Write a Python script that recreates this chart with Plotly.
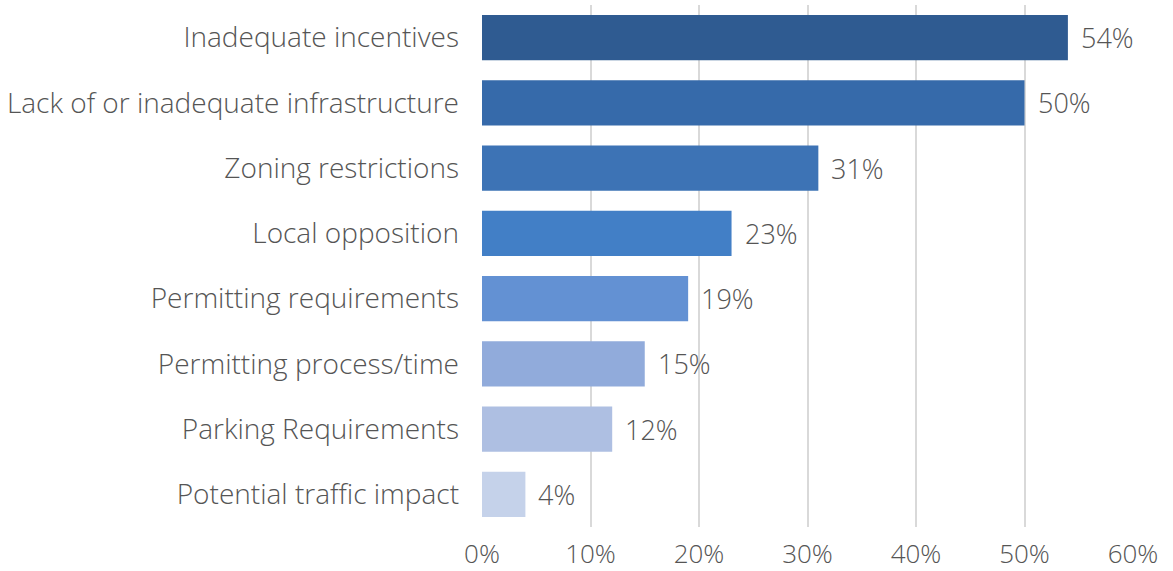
import plotly.graph_objects as go

categories = [
    "Inadequate incentives",
    "Lack of or inadequate infrastructure",
    "Zoning restrictions",
    "Local opposition",
    "Permitting requirements",
    "Permitting process/time",
    "Parking Requirements",
    "Potential traffic impact",
]
values = [54, 50, 31, 23, 19, 15, 12, 4]
bar_colors = ["#2F5B91", "#366AAA", "#3D73B5", "#427FC6",
              "#6391D3", "#91ABDB", "#AEBFE2", "#C5D2EA"]
tick_vals = [0, 10, 20, 30, 40, 50, 60]
tick_text = [f"{v}%" for v in tick_vals]

FONT = "Open Sans"
GREY = "#555555"
LABEL_SIZE = 28
VALUE_SIZE = 27

fig = go.Figure()
fig.add_trace(go.Bar(
    x=values,
    y=categories,
    orientation="h",
    marker=dict(color=bar_colors, line=dict(width=0)),
    width=0.69,
    hoverinfo="skip",
))

annotations = [
    dict(x=v, y=c, xref="x", yref="y", text=f"{v}%", showarrow=False,
         xanchor="left", xshift=11,
         font=dict(family=FONT, size=VALUE_SIZE, color=GREY, weight=300))
    for c, v in zip(categories, values)
]

fig.update_layout(
    width=1173, height=571,
    margin=dict(l=482, r=40, t=5, b=44, autoexpand=False),
    paper_bgcolor="white",
    plot_bgcolor="white",
    showlegend=False,
    annotations=annotations,
    font=dict(family=FONT, size=VALUE_SIZE, color=GREY, weight=300),
    xaxis=dict(
        range=[0, 60],
        tickvals=tick_vals,
        ticktext=tick_text,
        showgrid=True,
        gridcolor="#D9D9D9",
        gridwidth=2,
        zeroline=False,
        showline=False,
        ticks="",
        ticklabelstandoff=9,
        tickfont=dict(family=FONT, size=VALUE_SIZE - 1, color=GREY, weight=300),
        automargin=False,
        fixedrange=True,
    ),
    yaxis=dict(
        autorange="reversed",
        showgrid=False,
        showline=False,
        ticks="",
        ticklabelstandoff=22,
        tickfont=dict(family=FONT, size=LABEL_SIZE, color=GREY, weight=300),
        automargin=False,
        fixedrange=True,
    ),
)

fig.write_html("out.html")
